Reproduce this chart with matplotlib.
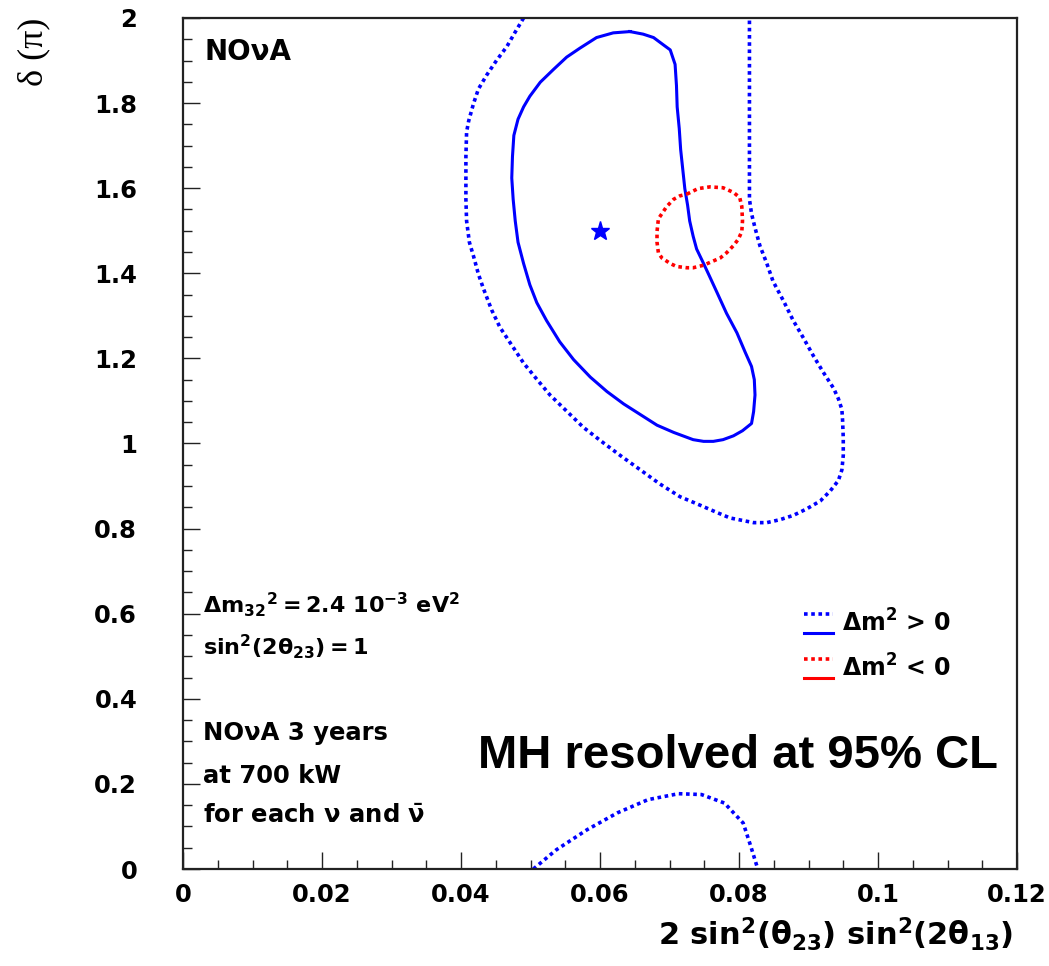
import matplotlib.pyplot as plt
from matplotlib.lines import Line2D
from matplotlib.legend_handler import HandlerBase

# ====== Data: allowed regions in (2 sin^2(th23) sin^2(2th13), delta/pi) ======
# normal hierarchy, inner (solid) contour
nh_in_x = [0.0643, 0.0662, 0.0677, 0.0691, 0.0701, 0.0708, 0.0710, 0.0711, 0.0714, 0.0716,
           0.0719, 0.0722, 0.0726, 0.0729, 0.0734, 0.0739, 0.0749, 0.0757, 0.0768, 0.0782,
           0.0797, 0.0809, 0.0818, 0.0822, 0.0823, 0.0821, 0.0818, 0.0805, 0.0792, 0.0777,
           0.0763, 0.0749, 0.0734, 0.0706, 0.0682, 0.0658, 0.0634, 0.0610, 0.0586, 0.0562,
           0.0542, 0.0523, 0.0509, 0.0499, 0.0490, 0.0482, 0.0478, 0.0475, 0.0473, 0.0474,
           0.0476, 0.0482, 0.0490, 0.0499, 0.0514, 0.0533, 0.0552, 0.0571, 0.0595, 0.0619,
           0.0643]
nh_in_y = [1.968, 1.962, 1.954, 1.937, 1.925, 1.891, 1.841, 1.791, 1.740, 1.691,
           1.645, 1.599, 1.560, 1.523, 1.487, 1.457, 1.423, 1.395, 1.356, 1.306,
           1.260, 1.214, 1.181, 1.150, 1.114, 1.075, 1.047, 1.030, 1.018, 1.009,
           1.005, 1.005, 1.009, 1.026, 1.043, 1.068, 1.093, 1.122, 1.156, 1.197,
           1.239, 1.289, 1.331, 1.373, 1.423, 1.473, 1.523, 1.574, 1.624, 1.674,
           1.724, 1.762, 1.791, 1.816, 1.849, 1.879, 1.908, 1.929, 1.954, 1.965,
           1.968]

# normal hierarchy, outer (dotted) contour
nh_out_x = [0.0490, 0.0478, 0.0466, 0.0451, 0.0437, 0.0425, 0.0418, 0.0411, 0.0408, 0.0407,
            0.0407, 0.0407, 0.0408, 0.0412, 0.0418, 0.0425, 0.0432, 0.0444, 0.0456, 0.0473,
            0.0490, 0.0509, 0.0528, 0.0552, 0.0576, 0.0602, 0.0629, 0.0658, 0.0686, 0.0715,
            0.0744, 0.0768, 0.0787, 0.0821, 0.0840, 0.0859, 0.0878, 0.0897, 0.0917, 0.0931,
            0.0943, 0.0948, 0.0950, 0.0950, 0.0949, 0.0948, 0.0943, 0.0936, 0.0921, 0.0907,
            0.0893, 0.0878, 0.0864, 0.0849, 0.0840, 0.0830, 0.0823, 0.0818, 0.0815, 0.0815,
            0.0815, 0.0815]
nh_out_y = [2.000, 1.967, 1.933, 1.900, 1.866, 1.833, 1.799, 1.758, 1.732, 1.674,
            1.624, 1.574, 1.523, 1.473, 1.440, 1.398, 1.365, 1.314, 1.273, 1.231,
            1.189, 1.151, 1.114, 1.076, 1.038, 1.005, 0.972, 0.938, 0.905, 0.875,
            0.855, 0.838, 0.825, 0.814, 0.814, 0.821, 0.831, 0.846, 0.865, 0.888,
            0.913, 0.938, 0.972, 1.013, 1.055, 1.080, 1.105, 1.130, 1.168, 1.206,
            1.247, 1.289, 1.335, 1.381, 1.423, 1.465, 1.507, 1.540, 1.574, 1.624,
            1.791, 2.000]

# wrap-around piece of the outer contour near delta = 0
nh_low_x = [0.0504, 0.0537, 0.0581, 0.0625, 0.0669, 0.0713, 0.0746, 0.0779, 0.0806, 0.0817, 0.0827]
nh_low_y = [0.000, 0.045, 0.092, 0.132, 0.163, 0.177, 0.175, 0.155, 0.108, 0.053, 0.000]

# inverted hierarchy, dotted contour
ih_x = [0.0725, 0.0741, 0.0758, 0.0777, 0.0792, 0.0801, 0.0804, 0.0805, 0.0804, 0.0799,
        0.0792, 0.0782, 0.0773, 0.0749, 0.0734, 0.0725, 0.0710, 0.0701, 0.0689, 0.0684,
        0.0682, 0.0682, 0.0684, 0.0689, 0.0696, 0.0706, 0.0715, 0.0725]
ih_y = [1.586, 1.599, 1.603, 1.601, 1.590, 1.578, 1.557, 1.523, 1.498, 1.480,
        1.465, 1.448, 1.436, 1.419, 1.413, 1.413, 1.416, 1.423, 1.436, 1.448,
        1.473, 1.498, 1.528, 1.540, 1.557, 1.574, 1.582, 1.586]

# true point
true_x = [0.06]
true_y = [1.5]

x_ticks = [0, 0.02, 0.04, 0.06, 0.08, 0.10, 0.12]
x_labels = ['0', '0.02', '0.04', '0.06', '0.08', '0.1', '0.12']
y_ticks = [0, 0.2, 0.4, 0.6, 0.8, 1.0, 1.2, 1.4, 1.6, 1.8, 2.0]
y_labels = ['0', '0.2', '0.4', '0.6', '0.8', '1', '1.2', '1.4', '1.6', '1.8', '2']

plt.rcParams['font.family'] = 'DejaVu Sans'
plt.rcParams['font.weight'] = 'bold'
plt.rcParams['mathtext.default'] = 'bf'

BLUE = '#0000ff'
RED = '#ff0000'
DOT = (0, (1.0, 1.0))
LW = 2.6


class HandlerPair(HandlerBase):
    # dotted key on top, solid key underneath
    def create_artists(self, legend, orig_handle, xdescent, ydescent,
                       width, height, fontsize, trans):
        arts = []
        for line, frac in zip(orig_handle, (1.0, 0.0)):
            y = frac * height - ydescent
            a = Line2D([-xdescent, width - xdescent], [y, y])
            a.update_from(line)
            a.set_transform(trans)
            arts.append(a)
        return arts


fig = plt.figure(figsize=(10.49, 9.66), dpi=100)
ax = fig.add_axes([0.1745, 0.1004, 0.795, 0.881])

l_out, = ax.plot(nh_out_x, nh_out_y, color=BLUE, lw=LW, linestyle=DOT, dash_capstyle='butt')
ax.plot(nh_low_x, nh_low_y, color=BLUE, lw=LW, linestyle=DOT, dash_capstyle='butt')
l_in, = ax.plot(nh_in_x, nh_in_y, color=BLUE, lw=2.2, solid_joinstyle='round')
l_ih, = ax.plot(ih_x, ih_y, color=RED, lw=LW, linestyle=DOT, dash_capstyle='butt')
ax.plot(true_x, true_y, marker='*', color=BLUE, markersize=14, linestyle='none')
ih_solid = Line2D([], [], color=RED, lw=2.2)

ax.set_xlim(0, 0.12)
ax.set_ylim(0, 2)
ax.set_xticks(x_ticks)
ax.set_xticklabels(x_labels)
ax.set_yticks(y_ticks)
ax.set_yticklabels(y_labels)
ax.set_xticks([i * 0.005 for i in range(25)], minor=True)
ax.set_yticks([i * 0.05 for i in range(41)], minor=True)
ax.tick_params(which='both', direction='in', top=False, right=False, width=1.0, color='#222222')
ax.tick_params(which='major', length=12)
ax.tick_params(which='minor', length=6.5)
ax.tick_params(axis='y', which='major', pad=33, labelsize=17.5)
ax.tick_params(axis='x', which='major', pad=10, labelsize=17.5)
for s in ax.spines.values():
    s.set_linewidth(1.6)
    s.set_color('#222222')

ax.set_xlabel(r'$2\ sin^{2}(\theta_{23})\ sin^{2}(2\theta_{13})$', fontsize=22, loc='right')
ax.xaxis.set_label_coords(0.995, -0.055)
ax.set_ylabel('δ (π)', fontsize=26, family='Liberation Serif', fontweight='normal', loc='top')
ax.yaxis.set_label_coords(-0.159, 1.0)

ax.text(0.026, 0.951, 'NOνA', transform=ax.transAxes, fontsize=20, va='baseline')

txt = [
    (0.301, r'$\Delta m_{32}{}^{2} = 2.4\ 10^{-3}\ eV^{2}$', 16),
    (0.2515, r'$sin^{2}(2\theta_{23}) = 1$', 16),
    (0.1516, 'NOνA 3 years', 17.5),
    (0.101, 'at 700 kW', 17.5),
    (0.054, r'for each $\nu$ and $\bar{\nu}$', 17.5),
]
for yy, s, fs in txt:
    ax.text(0.024, yy, s, transform=ax.transAxes, fontsize=fs, va='baseline')

ax.text(0.354, 0.119, 'MH resolved at 95% CL', transform=ax.transAxes,
        fontsize=34, family='Liberation Sans', fontweight='bold', va='baseline')

ax.legend([(l_out, l_in), (l_ih, ih_solid)], [r'$\Delta m^{2}$ > 0', r'$\Delta m^{2}$ < 0'],
          handler_map={tuple: HandlerPair()}, loc='upper left',
          bbox_to_anchor=(0.745, 0.305), frameon=False, fontsize=17,
          handlelength=1.2, handleheight=0.9, handletextpad=0.4,
          labelspacing=0.75, borderpad=0, borderaxespad=0)

fig.savefig('out.png', dpi=100)
